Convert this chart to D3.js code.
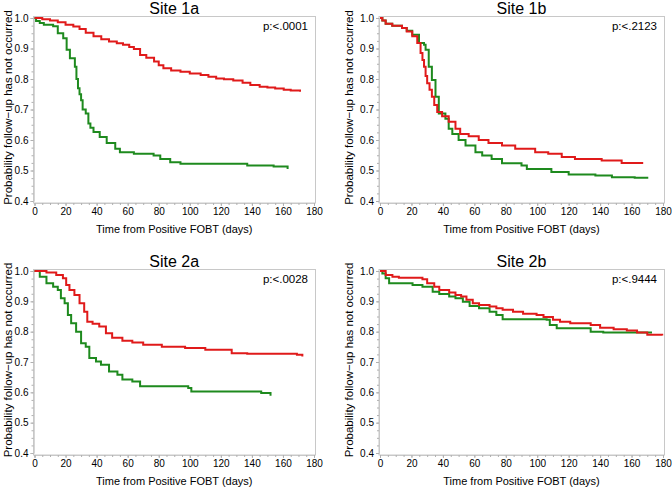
<!DOCTYPE html>
<html><head><meta charset="utf-8">
<script src="https://cdn.jsdelivr.net/npm/d3@7"></script>
<style>body{margin:0;background:#fff}svg{display:block}text{font-family:"Liberation Sans",Arial,sans-serif}</style>
</head><body>
<svg id="c" width="672" height="487"></svg>
<script>
// ---- data ----
const panelTitles = ["Site 1a","Site 1b","Site 2a","Site 2b"];
const pLabels = ["p:<.0001","p:<.2123","p:<.0028","p:<.9444"];
const xTicks = [0,20,40,60,80,100,120,140,160,180];
const yTicks = [0.4,0.5,0.6,0.7,0.8,0.9,1.0];
const xTitle = "Time from Positive FOBT (days)";
const yTitle = "Probability follow\u2212up has not occurred";

// Site 1a
const s1aRedDays = [0,5,10,15,20,25,29,33,38,43,48,53,57,61,64,68,72,77,80,83,88,94,100,107,112,117,122,128,134,139,145,150,155,160.5,165,171];
const s1aRedSurv = [1.0,0.996,0.992,0.986,0.978,0.972,0.964,0.952,0.94,0.93,0.923,0.917,0.912,0.905,0.898,0.879,0.87,0.857,0.845,0.835,0.828,0.824,0.818,0.813,0.807,0.802,0.799,0.795,0.788,0.78,0.775,0.772,0.769,0.765,0.762,0.758];
const s1aGrnDays = [0,1,3.4,6,12,15,18.5,20.7,22.8,26,27,28,29,30,31,33,34.7,36,38,42,46.5,52,55,64,76.7,81,87.4,94,137,154,163];
const s1aGrnSurv = [1.0,0.99,0.984,0.978,0.973,0.95,0.934,0.896,0.868,0.84,0.8,0.77,0.75,0.73,0.7,0.687,0.654,0.64,0.626,0.61,0.59,0.571,0.56,0.555,0.549,0.538,0.527,0.522,0.516,0.513,0.505];

// Site 1b
const s1bRedDays = [0,1.5,3.6,7.8,14,17,20.5,23.7,25.8,27,28,29,30,31.5,33,34.5,36.4,39.5,43.7,48,51,56.4,62.8,69,77.6,86,98.7,107,115.6,124,141,153.7,167.4];
const s1bRedSurv = [1.0,0.992,0.981,0.975,0.967,0.956,0.94,0.918,0.885,0.862,0.84,0.81,0.786,0.765,0.742,0.715,0.692,0.678,0.66,0.637,0.62,0.612,0.6,0.59,0.582,0.571,0.56,0.555,0.544,0.538,0.533,0.525,0.525];
const s1bGrnDays = [0,1.5,3.6,7.8,14,17,20.5,24.8,28,29,31,33,35.3,37.4,41.6,43.7,46,50,54.4,60.7,65,71,77.6,90,93.4,105,109,120,137,147.5,162,170];
const s1bGrnSurv = [1.0,0.992,0.981,0.975,0.967,0.958,0.945,0.918,0.912,0.896,0.84,0.797,0.742,0.687,0.67,0.637,0.62,0.6,0.582,0.56,0.549,0.538,0.524,0.516,0.505,0.505,0.495,0.487,0.484,0.478,0.476,0.473];

// Site 2a
const s2aRedDays = [0,7.7,14,18.3,20.4,22.5,25.7,29,32,34,37.4,41.7,46,50,56.6,63,70,82,97,110,127,137,161,169,172.5];
const s2aRedSurv = [1.0,0.995,0.987,0.976,0.954,0.937,0.921,0.894,0.866,0.833,0.826,0.817,0.795,0.78,0.77,0.764,0.757,0.75,0.746,0.74,0.729,0.727,0.727,0.724,0.718];
const s2aGrnDays = [0,3.4,7.7,12,15,17,19.4,21.5,23.6,26.8,30,33,35.3,39.6,42.8,48,53.4,56.6,63,68,99,101,146,152];
const s2aGrnSurv = [1.0,0.981,0.96,0.948,0.937,0.91,0.894,0.855,0.828,0.8,0.762,0.75,0.713,0.702,0.691,0.669,0.658,0.642,0.636,0.62,0.614,0.603,0.598,0.589];

// Site 2b
const s2bRedDays = [0,3.6,7.9,12,27,30,34.5,37.7,44,48,51.6,55,59,63,69.7,74,78,84.6,91,99.6,104,110,114.5,121,134,140,148.6,157,163.5,170,179.5];
const s2bRedSurv = [1.0,0.987,0.981,0.978,0.973,0.96,0.948,0.937,0.929,0.921,0.916,0.905,0.894,0.888,0.883,0.877,0.872,0.866,0.859,0.855,0.848,0.839,0.833,0.828,0.822,0.813,0.808,0.804,0.797,0.79,0.787];
const s2bGrnDays = [0,1.5,3.6,5.8,20.7,27,33.5,37.7,44,48,52.7,57,63,69.7,74,78,106,108,112.4,134,142,173];
const s2bGrnSurv = [1.0,0.992,0.976,0.96,0.954,0.948,0.932,0.924,0.916,0.91,0.899,0.885,0.877,0.866,0.855,0.841,0.839,0.822,0.811,0.8,0.797,0.797];

const redSeries = [[s1aRedDays,s1aRedSurv],[s1bRedDays,s1bRedSurv],[s2aRedDays,s2aRedSurv],[s2bRedDays,s2bRedSurv]];
const grnSeries = [[s1aGrnDays,s1aGrnSurv],[s1bGrnDays,s1bGrnSurv],[s2aGrnDays,s2aGrnSurv],[s2bGrnDays,s2bGrnSurv]];

// ---- layout ----
const cols = [[34.5,314],[380,663]];
const rows = [[18,201],[271,453]];
const RED = "#e01a1a", GRN = "#1e8a1e", FRAME = "#c8c8c8";

const svg = d3.select("#c");

panelTitles.forEach((title,i)=>{
  const [cx0,cx1] = cols[i%2];
  const [ry0,ry1] = rows[Math.floor(i/2)];
  const x = d3.scaleLinear().domain([0,180]).range([cx0,cx1]);
  const y = d3.scaleLinear().domain([0.4,1.0]).range([ry1,ry0]);
  const g = svg.append("g");

  // frame
  g.append("rect").attr("x",cx0-1).attr("y",ry0-1.5).attr("width",cx1-cx0+2.5).attr("height",ry1-ry0+3.5)
    .attr("fill","none").attr("stroke",FRAME).attr("stroke-width",1);

  // x axis
  const xa = d3.axisBottom(x).tickValues(xTicks).tickFormat(d3.format("d")).tickSize(3).tickPadding(2);
  const xg = g.append("g").attr("transform",`translate(0,${ry1+2})`).call(xa);
  const xm = g.append("g").attr("transform",`translate(0,${ry1+2})`)
    .call(d3.axisBottom(x).tickValues(d3.range(0,181,5)).tickFormat("").tickSize(2));
  // y axis
  const ya = d3.axisLeft(y).tickValues(yTicks).tickFormat(d3.format(".1f")).tickSize(3).tickPadding(2);
  const yg = g.append("g").attr("transform",`translate(${cx0-1},0)`).call(ya);
  const ym = g.append("g").attr("transform",`translate(${cx0-1},0)`)
    .call(d3.axisLeft(y).tickValues(d3.range(0.4,1.0001,0.025)).tickFormat("").tickSize(2));
  [xg,xm,yg,ym].forEach(a=>{
    a.select(".domain").attr("stroke",FRAME);
    a.selectAll(".tick line").attr("stroke","#b0b0b0");
    a.selectAll("text").attr("fill","#000").style("font-size","10px").style("font-family","'Liberation Sans',Arial,sans-serif");
  });

  // curves
  const line = d3.line().x(d=>x(d[0])).y(d=>y(d[1])).curve(d3.curveStepAfter);
  const draw = (ser,col)=>{
    const pts = ser[0].map((t,k)=>[t,ser[1][k]]);
    g.append("path").datum(pts).attr("d",line).attr("fill","none").attr("stroke",col)
      .attr("stroke-width",2).attr("stroke-linejoin","miter");
  };
  draw(grnSeries[i],GRN);
  draw(redSeries[i],RED);

  // texts
  g.append("text").attr("x",(cx0+cx1)/2).attr("y",ry0-4).attr("text-anchor","middle")
    .style("font-size","16px").text(title);
  g.append("text").attr("x",cx1-6).attr("y",ry0+12).attr("text-anchor","end")
    .style("font-size","11.5px").text(pLabels[i]);
  g.append("text").attr("x",(cx0+cx1)/2).attr("y",ry1+32).attr("text-anchor","middle")
    .style("font-size","11px").text(xTitle);
  const yx = (i%2===0) ? 12 : 353;
  g.append("text").attr("transform",`translate(${yx},${(ry0+ry1)/2 - 2}) rotate(-90)`).attr("text-anchor","middle")
    .style("font-size","11.5px").text(yTitle);
});
</script>
</body></html>
